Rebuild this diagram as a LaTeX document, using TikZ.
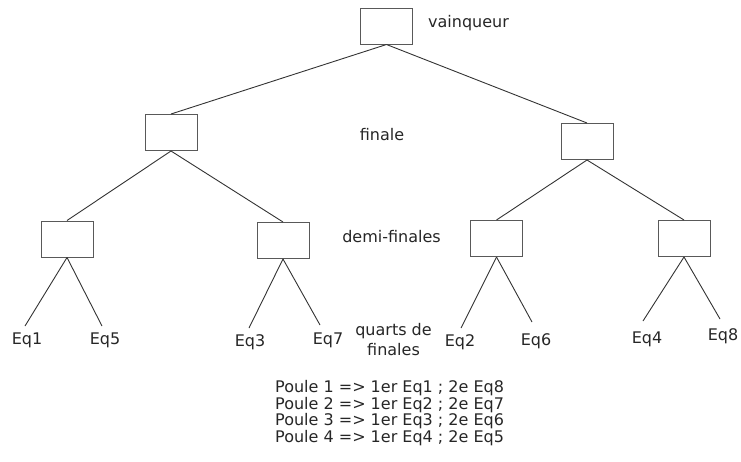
\documentclass[tikz,border=0pt]{standalone}
\usepackage{fontspec}
\setmainfont{DejaVu Sans}
\begin{document}
\begin{tikzpicture}[x=1pt,y=-1pt,
  match/.style={draw=black!65, line width=1pt, minimum width=52pt, minimum height=36pt, inner sep=0pt},
  link/.style={draw=black!80, line width=0.9pt},
  lbl/.style={text=black!85, font=\fontsize{16}{18}\selectfont, inner sep=0pt}]
\useasboundingbox (0,0) rectangle (741,461);
% boxes
\node[match] (T) at (386.5,26) {};
\node[match] (FL) at (171,132.5) {};
\node[match] (FR) at (587,141.5) {};
\node[match] (S1) at (67,239) {};
\node[match] (S2) at (283,240.5) {};
\node[match] (S3) at (496.5,238.5) {};
\node[match] (S4) at (684,238.5) {};
% leaf ends
\coordinate (e1) at (25,326);
\coordinate (e5) at (102,326);
\coordinate (e3) at (249,328);
\coordinate (e7) at (320,325);
\coordinate (e2) at (461,328);
\coordinate (e6) at (532,322);
\coordinate (e4) at (643,321);
\coordinate (e8) at (720,319);
% connectors
\draw[link] (T.south) -- (FL.north);
\draw[link] (T.south) -- (FR.north);
\draw[link] (FL.south) -- (S1.north);
\draw[link] (FL.south) -- (S2.north);
\draw[link] (FR.south) -- (S3.north);
\draw[link] (FR.south) -- (S4.north);
\draw[link] (S1.south) -- (e1);
\draw[link] (S1.south) -- (e5);
\draw[link] (S2.south) -- (e3);
\draw[link] (S2.south) -- (e7);
\draw[link] (S3.south) -- (e2);
\draw[link] (S3.south) -- (e6);
\draw[link] (S4.south) -- (e4);
\draw[link] (S4.south) -- (e8);
% leaf labels
\node[lbl, anchor=base] (q1) at (27,344) {Eq1};
\node[lbl, anchor=base] (q5) at (105,344) {Eq5};
\node[lbl, anchor=base] (q3) at (250,346) {Eq3};
\node[lbl, anchor=base] (q7) at (328,344) {Eq7};
\node[lbl, anchor=base] (q2) at (460,346) {Eq2};
\node[lbl, anchor=base] (q6) at (536,345) {Eq6};
\node[lbl, anchor=base] (q4) at (647,343) {Eq4};
\node[lbl, anchor=base] (q8) at (723,340) {Eq8};
% round labels
\node[lbl, anchor=base west] (lv) at (428,27) {vainqueur};
\node[lbl, anchor=base] (lf) at (382,140) {finale};
\node[lbl, anchor=base] (ld) at (391.5,242) {demi-finales};
\node[lbl, align=center, font=\fontsize{16}{20}\selectfont] (lq) at (393.5,339.5) {quarts de\\finales};
% legend
\node[lbl, align=left, anchor=west, font=\fontsize{16}{16.7}\selectfont] (leg) at (275,413) {Poule 1 => 1er Eq1 ; 2e Eq8\\Poule 2 => 1er Eq2 ; 2e Eq7\\Poule 3 => 1er Eq3 ; 2e Eq6\\Poule 4 => 1er Eq4 ; 2e Eq5};
\end{tikzpicture}
\end{document}
